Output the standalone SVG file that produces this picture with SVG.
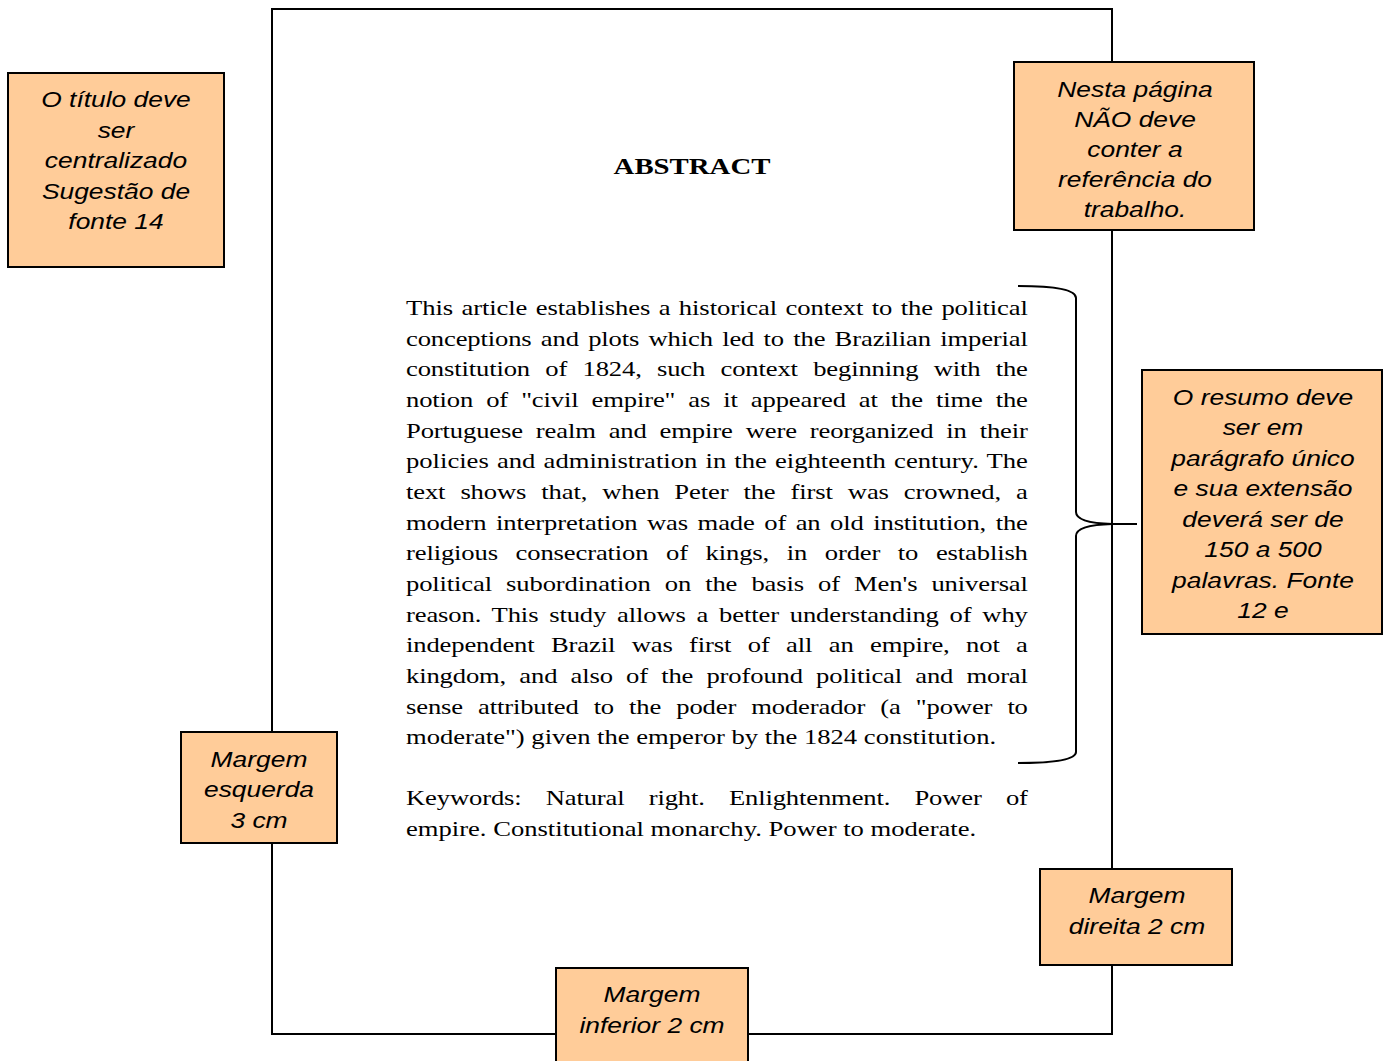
<svg xmlns="http://www.w3.org/2000/svg" width="1389" height="1061" viewBox="0 0 1389 1061">
<style>
.box{fill:#FFCC99;stroke:#000;stroke-width:2}
.note{font-family:"Liberation Sans",Arial,sans-serif;font-style:italic;font-size:22px;fill:#000;text-anchor:middle}
.body{font-family:"Liberation Serif","Times New Roman",serif;font-size:22px;fill:#000}
.title{font-family:"Liberation Serif","Times New Roman",serif;font-size:24px;font-weight:bold;fill:#000;text-anchor:middle}
.ln{fill:none;stroke:#000;stroke-width:2}
</style>
<rect width="1389" height="1061" fill="#fff"/>
<rect id="page" x="272" y="9" width="840" height="1025" class="ln"/>
<g id="connectors">
<path class="ln" d="M1018,286 Q1076,286 1076,298 L1076,512 Q1076,523 1112,524 Q1076,525 1076,536 L1076,752 Q1076,763 1018,763"/>
<path class="ln" d="M1100,524 H1137"/>
</g>
<g id="abstract-title" transform="translate(692,0) scale(1.2,1)">
<text class="title" x="0" y="174">ABSTRACT</text>
</g>
<g id="abstract-body" transform="translate(406,0) scale(1.21,1)">
<text class="body" x="0" y="315" word-spacing="1.55" textLength="514" lengthAdjust="spacing">This article establishes a historical context to the political</text>
<text class="body" x="0" y="345.7" word-spacing="2.28" textLength="514" lengthAdjust="spacing">conceptions and plots which led to the Brazilian imperial</text>
<text class="body" x="0" y="376.3" word-spacing="7.26" textLength="514" lengthAdjust="spacing">constitution of 1824, such context beginning with the</text>
<text class="body" x="0" y="407" word-spacing="5.37" textLength="514" lengthAdjust="spacing">notion of "civil empire" as it appeared at the time the</text>
<text class="body" x="0" y="437.7" word-spacing="5.29" textLength="514" lengthAdjust="spacing">Portuguese realm and empire were reorganized in their</text>
<text class="body" x="0" y="468.3" word-spacing="1.24" textLength="514" lengthAdjust="spacing">policies and administration in the eighteenth century. The</text>
<text class="body" x="0" y="499" word-spacing="7.06" textLength="514" lengthAdjust="spacing">text shows that, when Peter the first was crowned, a</text>
<text class="body" x="0" y="529.7" word-spacing="2.5" textLength="514" lengthAdjust="spacing">modern interpretation was made of an old institution, the</text>
<text class="body" x="0" y="560.4" word-spacing="9.16" textLength="514" lengthAdjust="spacing">religious consecration of kings, in order to establish</text>
<text class="body" x="0" y="591" word-spacing="6.27" textLength="514" lengthAdjust="spacing">political subordination on the basis of Men's universal</text>
<text class="body" x="0" y="621.7" word-spacing="3.56" textLength="514" lengthAdjust="spacing">reason. This study allows a better understanding of why</text>
<text class="body" x="0" y="652.4" word-spacing="8.2" textLength="514" lengthAdjust="spacing">independent Brazil was first of all an empire, not a</text>
<text class="body" x="0" y="683" word-spacing="5.53" textLength="514" lengthAdjust="spacing">kingdom, and also of the profound political and moral</text>
<text class="body" x="0" y="713.7" word-spacing="7.06" textLength="514" lengthAdjust="spacing">sense attributed to the poder moderador (a "power to</text>
<text class="body" x="0" y="744.4">moderate") given the emperor by the 1824 constitution.</text>
<text class="body" x="0" y="805.5" word-spacing="14.6" textLength="514" lengthAdjust="spacing">Keywords: Natural right. Enlightenment. Power of</text>
<text class="body" x="0" y="836.2">empire. Constitutional monarchy. Power to moderate.</text>
</g>
<g id="note-titulo">
<rect class="box" x="8" y="73" width="216" height="194"/>
<g transform="translate(116,0) scale(1.2,1)">
<text class="note" x="0" y="107">O título deve</text>
<text class="note" x="0" y="137.6">ser</text>
<text class="note" x="0" y="168.2">centralizado</text>
<text class="note" x="0" y="198.8">Sugestão de</text>
<text class="note" x="0" y="229.4">fonte 14</text>
</g>
</g>
<g id="note-referencia">
<rect class="box" x="1014" y="62" width="240" height="168"/>
<g transform="translate(1135,0) scale(1.2,1)">
<text class="note" x="0" y="96.7">Nesta página</text>
<text class="note" x="0" y="126.9">NÃO deve</text>
<text class="note" x="0" y="157.1">conter a</text>
<text class="note" x="0" y="187.3">referência do</text>
<text class="note" x="0" y="217.5">trabalho.</text>
</g>
</g>
<g id="note-resumo">
<rect class="box" x="1142" y="370" width="240" height="264"/>
<g transform="translate(1263,0) scale(1.2,1)">
<text class="note" x="0" y="405">O resumo deve</text>
<text class="note" x="0" y="435.5">ser em</text>
<text class="note" x="0" y="466">parágrafo único</text>
<text class="note" x="0" y="496.5">e sua extensão</text>
<text class="note" x="0" y="527">deverá ser de</text>
<text class="note" x="0" y="557.5">150 a 500</text>
<text class="note" x="0" y="588">palavras. Fonte</text>
<text class="note" x="0" y="618.5">12 e</text>
</g>
</g>
<g id="note-esquerda">
<rect class="box" x="181" y="732" width="156" height="111"/>
<g transform="translate(259,0) scale(1.2,1)">
<text class="note" x="0" y="766.7">Margem</text>
<text class="note" x="0" y="797.5">esquerda</text>
<text class="note" x="0" y="828.3">3 cm</text>
</g>
</g>
<g id="note-direita">
<rect class="box" x="1040" y="869" width="192" height="96"/>
<g transform="translate(1137,0) scale(1.2,1)">
<text class="note" x="0" y="903.5">Margem</text>
<text class="note" x="0" y="934">direita 2 cm</text>
</g>
</g>
<g id="note-inferior">
<rect class="box" x="556" y="968" width="192" height="100"/>
<g transform="translate(652,0) scale(1.2,1)">
<text class="note" x="0" y="1002.5">Margem</text>
<text class="note" x="0" y="1033">inferior 2 cm</text>
</g>
</g>
</svg>
